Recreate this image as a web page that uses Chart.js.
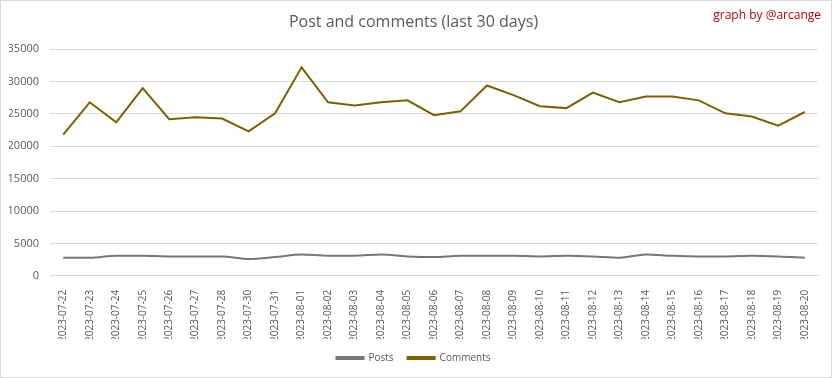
<!DOCTYPE html>
<html>
<head>
<meta charset="utf-8">
<script src="https://cdn.jsdelivr.net/npm/chart.js@4"></script>
<style>
  html, body { margin: 0; padding: 0; background: #fff; }
  #wrap { width: 832px; height: 378px; box-sizing: border-box; border: 1px solid #d9d9d9; position: relative; }
  canvas { display: block; }
</style>
</head>
<body>
<div id="wrap"><canvas id="chart" width="830" height="376"></canvas></div>
<script>
const days = ['2023-07-22','2023-07-23','2023-07-24','2023-07-25','2023-07-26','2023-07-27','2023-07-28',
  '2023-07-30','2023-07-31','2023-08-01','2023-08-02','2023-08-03','2023-08-04','2023-08-05','2023-08-06',
  '2023-08-07','2023-08-08','2023-08-09','2023-08-10','2023-08-11','2023-08-12','2023-08-13','2023-08-14',
  '2023-08-15','2023-08-16','2023-08-17','2023-08-18','2023-08-19','2023-08-20'];
const posts = [2800, 2800, 3100, 3100, 3000, 3000, 3000, 2600, 2900, 3300, 3100, 3100, 3300, 3000, 2900,
  3100, 3100, 3100, 3000, 3100, 3000, 2800, 3300, 3100, 3000, 3000, 3100, 3000, 2800];
const comments = [21800, 26800, 23700, 29000, 24200, 24500, 24300, 22300, 25100, 32200, 26800, 26300, 26800, 27100, 24800,
  25400, 29400, 27900, 26200, 25900, 28300, 26800, 27700, 27700, 27100, 25100, 24600, 23200, 25300];
const yTicks = [0, 5000, 10000, 15000, 20000, 25000, 30000, 35000];

const font = "'Open Sans', sans-serif";

// small credit in the top right corner
const credit = {
  id: 'credit',
  afterDraw(chart) {
    const ctx = chart.ctx;
    ctx.save();
    ctx.font = "12px " + font;
    ctx.fillStyle = '#c00000';
    ctx.textAlign = 'right';
    ctx.textBaseline = 'middle';
    ctx.fillText('graph by @arcange', 820, 15);
    ctx.restore();
  }
};

new Chart(document.getElementById('chart'), {
  type: 'line',
  data: {
    labels: days,
    datasets: [{
      label: 'Posts',
      data: posts,
      borderColor: '#7a7575',
      backgroundColor: '#7a7575',
      borderWidth: 2,
      pointRadius: 0,
      tension: 0.4,
      cubicInterpolationMode: 'monotone'
    }, {
      label: 'Comments',
      data: comments,
      borderColor: '#7f6000',
      backgroundColor: '#7f6000',
      borderWidth: 2,
      pointRadius: 0,
      tension: 0
    }]
  },
  options: {
    responsive: false,
    animation: false,
    layout: { padding: { left: 8, right: 13, top: 0, bottom: 4 } },
    plugins: {
      title: {
        display: true,
        text: 'Post and comments (last 30 days)',
        color: '#595959',
        font: { family: font, size: 16, weight: 'normal' },
        padding: { top: 12, bottom: 17 }
      },
      legend: {
        position: 'bottom',
        labels: {
          color: '#595959',
          font: { family: font, size: 10 },
          boxWidth: 27,
          boxHeight: 2,
          padding: 14
        }
      },
      tooltip: { enabled: false }
    },
    scales: {
      y: {
        min: 0,
        max: 35000,
        afterBuildTicks: (scale) => { scale.ticks = yTicks.map(v => ({ value: v })); },
        afterFit: (scale) => { scale.width = 41; },
        ticks: { color: '#595959', font: { family: font, size: 11 }, padding: 11, callback: (v) => String(v) },
        grid: { color: '#d9d9d9', drawTicks: false },
        border: { display: false }
      },
      x: {
        offset: true,
        afterFit: (scale) => { scale.height -= 9; },
        ticks: { color: '#595959', font: { family: font, size: 10 }, minRotation: 90, maxRotation: 90, autoSkip: false, padding: 6 },
        grid: { display: false },
        border: { color: '#d9d9d9' }
      }
    }
  },
  plugins: [credit]
});
</script>
</body>
</html>
